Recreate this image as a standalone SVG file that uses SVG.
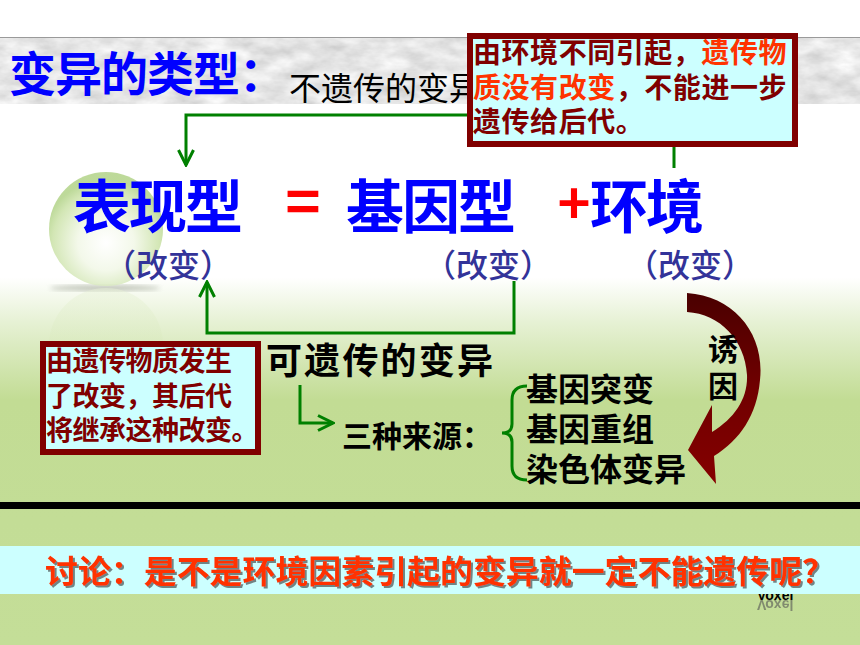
<svg xmlns="http://www.w3.org/2000/svg" width="860" height="645" viewBox="0 0 860 645">
<defs>
<linearGradient id="bg" x1="0" y1="0" x2="0" y2="645" gradientUnits="userSpaceOnUse">
<stop offset="0" stop-color="#ffffff"/>
<stop offset="0.43" stop-color="#ffffff"/>
<stop offset="0.5" stop-color="#e6f1d4"/>
<stop offset="0.62" stop-color="#c2dc94"/>
<stop offset="1" stop-color="#c4de98"/>
</linearGradient>
<radialGradient id="sph" cx="0.5" cy="0.62" r="0.55">
<stop offset="0" stop-color="#ffffff"/>
<stop offset="0.45" stop-color="#f1f7e6"/>
<stop offset="0.85" stop-color="#cbe2a8"/>
<stop offset="1" stop-color="#b2d388"/>
</radialGradient>
<linearGradient id="refl" x1="0" y1="0" x2="0" y2="1">
<stop offset="0" stop-color="#e8f2d8" stop-opacity="0.8"/>
<stop offset="1" stop-color="#c2dc94" stop-opacity="0"/>
</linearGradient>
<linearGradient id="curv" x1="0" y1="0" x2="0" y2="1">
<stop offset="0" stop-color="#4a0000"/>
<stop offset="0.5" stop-color="#700000"/>
<stop offset="1" stop-color="#850000"/>
</linearGradient>
<filter id="marble" x="0" y="0" width="1" height="1">
<feTurbulence type="fractalNoise" baseFrequency="0.035 0.07" numOctaves="4" seed="7"/>
<feColorMatrix type="matrix" values="0.5 0 0 0 0.54  0.5 0 0 0 0.54  0.5 0 0 0 0.54  0 0 0 0 1"/>
</filter>
<filter id="blur4"><feGaussianBlur stdDeviation="2.5"/></filter>
<filter id="shadow" x="-0.05" y="-0.3" width="1.1" height="1.6">
<feDropShadow dx="2" dy="2" stdDeviation="0.6" flood-color="#333333" flood-opacity="0.6"/>
</filter>
<marker id="arr" viewBox="-18 -10 20 20" markerWidth="20" markerHeight="20" refX="0" refY="0" orient="auto" markerUnits="userSpaceOnUse">
<path d="M-15,-7.5 L0,0 L-15,7.5" fill="none" stroke="#008000" stroke-width="3"/>
</marker>
<style>
.cjk{font-family:"Noto Sans CJK SC","Noto Sans",sans-serif;}
.blue{fill:#0000ff;font-weight:bold;}
.chg{fill:#333399;font-weight:500;font-size:32px;}
.box{fill:#ccffff;stroke:#800000;stroke-width:6;}
.dr{fill:#800000;font-weight:bold;}
.rd{fill:#ff3300;font-weight:bold;}
.blk{fill:#000000;font-weight:bold;}
.conn{fill:none;stroke:#008000;stroke-width:3;}
</style>
</defs>

<g id="background">
<rect x="0" y="0" width="860" height="645" fill="url(#bg)"/>
<rect x="0" y="37" width="860" height="67" filter="url(#marble)"/>
<line x1="0" y1="37.5" x2="860" y2="37.5" stroke="#9a9a9a" stroke-width="1"/>
<ellipse cx="105" cy="288" rx="55" ry="3" fill="#9aa090" opacity="0.6" filter="url(#blur4)"/>
<circle cx="106" cy="345" r="57" fill="url(#refl)" opacity="0.6"/>
<circle cx="106" cy="229" r="57" fill="url(#sph)" opacity="0.85"/>
<rect x="0" y="502" width="860" height="7" fill="#000000"/>
<text x="757" y="600" font-family="Liberation Sans, sans-serif" font-size="14" font-weight="bold" fill="#000">Voxel</text>
<text x="757" y="-600" transform="scale(1,-1)" font-family="Liberation Sans, sans-serif" font-size="14" font-weight="bold" fill="#555" opacity="0.6">Voxel</text>
<rect x="0" y="546" width="860" height="48" fill="#ccffff"/>
</g>

<g id="title">
<text class="cjk blue" x="9" y="91" font-size="47" letter-spacing="-1">变异的类型：</text>
</g>

<g id="non-heritable-label">
<text class="cjk" x="289" y="100" font-size="32" fill="#000">不遗传的变异</text>
</g>

<g id="connectors">
<polyline class="conn" points="674,168 674,115 186,115 186,165" marker-end="url(#arr)"/>
<polyline class="conn" points="514,281 514,333 207,333 207,282" marker-end="url(#arr)"/>
<polyline class="conn" points="300,385 300,423 333,423" marker-end="url(#arr)"/>
<path class="conn" d="M527,386 Q512,386 512,400 L512,424 Q512,433 502,433 Q512,433 512,442 L512,466 Q512,480 527,480"/>
<path id="induce-arrow" d="M687,293 C735,296 765,335 760,380 C757,415 740,440 714,456 L716,484 L688,450 L712,405 L712,432 C735,418 748,398 747,375 C745,340 720,314 687,312 Z" fill="url(#curv)"/>
</g>

<g id="note-env">
<rect class="box" x="470" y="36" width="325" height="108"/>
<text class="cjk" x="473" y="63" font-size="28" letter-spacing="0.55"><tspan class="dr">由环境不同引起，</tspan><tspan class="rd">遗传物</tspan></text>
<text class="cjk" x="473" y="98" font-size="28" letter-spacing="0.55"><tspan class="rd">质没有改变</tspan><tspan class="dr">，不能进一步</tspan></text>
<text class="cjk dr" x="473" y="132" font-size="28" letter-spacing="0.55">遗传给后代。</text>
</g>

<g id="phenotype">
<text class="cjk blue" x="73" y="228" font-size="58" letter-spacing="-2">表现型</text>
<text class="cjk chg" x="104" y="277">（改变）</text>
</g>
<g id="equals">
<text class="cjk" x="303" y="224" font-size="60" font-weight="bold" fill="#ff0000" text-anchor="middle">=</text>
</g>
<g id="genotype">
<text class="cjk blue" x="346" y="228" font-size="58" letter-spacing="-2">基因型</text>
<text class="cjk chg" x="424" y="277">（改变）</text>
</g>
<g id="plus">
<text class="cjk" x="574" y="224" font-size="56" font-weight="bold" fill="#ff0000" text-anchor="middle">+</text>
</g>
<g id="environment">
<text class="cjk blue" x="590" y="228" font-size="58" letter-spacing="-2">环境</text>
<text class="cjk chg" x="626" y="277">（改变）</text>
</g>

<g id="note-heritable">
<rect class="box" x="43" y="344" width="215" height="108"/>
<text class="cjk dr" x="46" y="371" font-size="27" letter-spacing="-0.5">由遗传物质发生</text>
<text class="cjk dr" x="46" y="406" font-size="27" letter-spacing="-0.5">了改变，其后代</text>
<text class="cjk dr" x="46" y="440" font-size="27" letter-spacing="-0.5">将继承这种改变。</text>
</g>

<g id="heritable">
<text class="cjk blk" x="266" y="374" font-size="36" textLength="227" lengthAdjust="spacing">可遗传的变异</text>
</g>

<g id="sources">
<text class="cjk blk" x="342" y="447" font-size="30">三种来源：</text>
</g>

<g id="source-list">
<text class="cjk blk" x="526" y="401" font-size="32">基因突变</text>
<text class="cjk blk" x="526" y="441" font-size="32">基因重组</text>
<text class="cjk blk" x="526" y="481" font-size="32">染色体变异</text>
</g>

<g id="inducement">
<text class="cjk blk" x="723" y="334" font-size="30" writing-mode="vertical-rl" letter-spacing="7">诱因</text>
</g>

<g id="discussion">
<text class="cjk" x="45" y="583" font-size="32" font-weight="bold" fill="#ff3300" filter="url(#shadow)" textLength="790" lengthAdjust="spacingAndGlyphs">讨论：是不是环境因素引起的变异就一定不能遗传呢？</text>
</g>
</svg>
